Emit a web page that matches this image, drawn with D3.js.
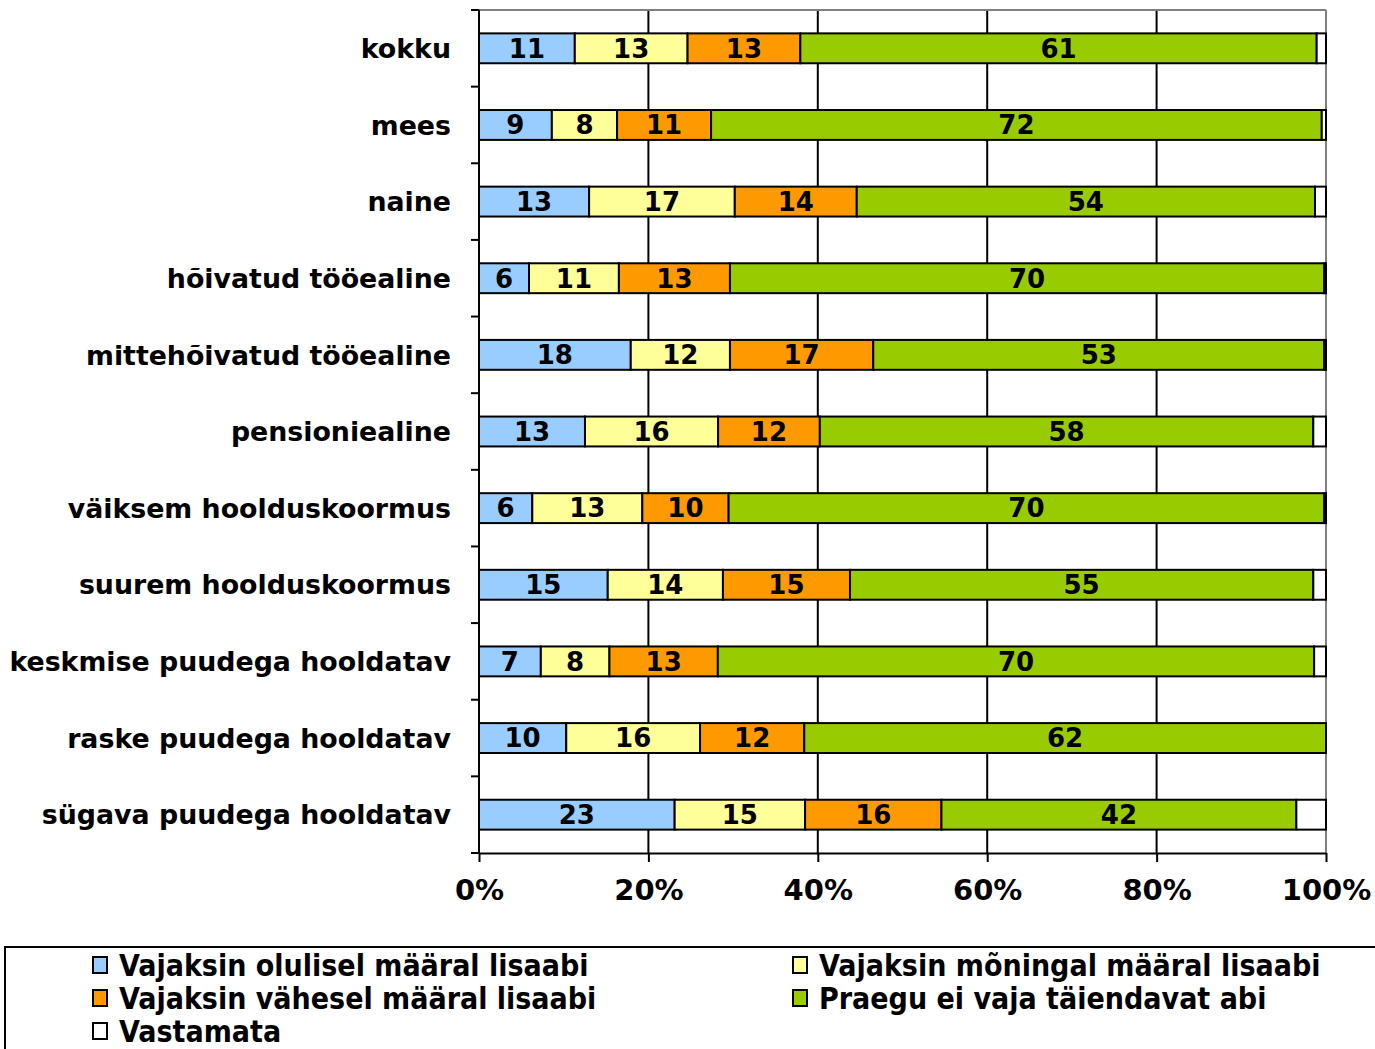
<!DOCTYPE html>
<html>
<head>
<meta charset="utf-8">
<script src="https://cdn.jsdelivr.net/npm/d3@7"></script>
<style>
  body { margin: 0; background: #fff; }
  svg { display: block; }
  text { font-family: "DejaVu Sans", Verdana, sans-serif; font-weight: bold; }
</style>
</head>
<body>
<svg id="chart" width="1375" height="1049"></svg>
<script>
// categories, top to bottom
const categories = ["kokku", "mees", "naine", "hõivatud tööealine", "mittehõivatud tööealine",
    "pensioniealine", "väiksem hoolduskoormus", "suurem hoolduskoormus",
    "keskmise puudega hooldatav", "raske puudega hooldatav", "sügava puudega hooldatav"];
const seriesNames = ["Vajaksin olulisel määral lisaabi", "Vajaksin mõningal määral lisaabi",
    "Vajaksin vähesel määral lisaabi", "Praegu ei vaja täiendavat abi", "Vastamata"];
// percent values
const olulisel = [11.3, 8.6, 13.0, 5.9, 17.9, 12.5, 6.3, 15.2, 7.3, 10.3, 23.1];
const moningal = [13.3, 7.7, 17.2, 10.6, 11.7, 15.7, 13.0, 13.6, 8.1, 15.8, 15.4];
const vahesel = [13.3, 11.1, 14.4, 13.1, 16.9, 12.0, 10.2, 15.0, 12.8, 12.3, 16.1];
const praegu = [60.9, 72.1, 54.1, 70.1, 53.2, 58.2, 70.4, 54.7, 70.4, 61.6, 41.9];
const vastamata = [1.1, 0.5, 1.3, 0.2, 0.2, 1.5, 0.2, 1.5, 1.4, 0.0, 3.5];
const xTicks = [0, 20, 40, 60, 80, 100];
const colors = ["#99CCFF", "#FFFF99", "#FF9900", "#99CC00", "#FFFFFF"];

const svg = d3.select("#chart");
const margin = { left: 479, top: 10, right: 49, bottom: 196 };
const width = 1375 - margin.left - margin.right;
const height = 1049 - margin.top - margin.bottom;
const g = svg.append("g").attr("transform", `translate(${margin.left},${margin.top})`);

const allSeries = [olulisel, moningal, vahesel, praegu, vastamata];
const rows = categories.map((c, i) => {
    const row = { cat: c };
    seriesNames.forEach((s, j) => row[s] = allSeries[j][i]);
    return row;
});
const stacked = d3.stack().keys(seriesNames).offset(d3.stackOffsetExpand)(rows);

const x = d3.scaleLinear().domain([0, 1]).range([0, width]);
const y = d3.scaleBand().domain(categories).range([0, height]).paddingInner(0.61).paddingOuter(0.305);
const band = d3.scaleBand().domain(categories).range([0, height]);

// gridlines
g.selectAll(".grid").data(xTicks.slice(1)).enter().append("line")
    .attr("x1", d => x(d / 100)).attr("x2", d => x(d / 100)).attr("y1", 0).attr("y2", height)
    .attr("stroke", d => d === 100 ? "#808080" : "#000").attr("stroke-width", 2);
g.append("line").attr("x1", 0).attr("x2", width).attr("y1", 0).attr("y2", 0)
    .attr("stroke", "#808080").attr("stroke-width", 2);

// bars
const layers = g.selectAll("g.layer").data(stacked).enter().append("g").attr("class", "layer")
    .attr("fill", (d, i) => colors[i]);
layers.selectAll("rect").data(d => d).enter().append("rect")
    .attr("x", d => x(d[0])).attr("width", d => x(d[1]) - x(d[0]))
    .attr("y", d => y(d.data.cat)).attr("height", y.bandwidth())
    .attr("stroke", "#000").attr("stroke-width", 2);

// value labels (not for Vastamata)
stacked.slice(0, 4).forEach((layer, i) => {
    g.append("g").selectAll("text").data(layer).enter().append("text")
        .attr("x", d => x((d[0] + d[1]) / 2)).attr("y", d => y(d.data.cat) + y.bandwidth() / 2)
        .attr("dy", "0.36em").attr("text-anchor", "middle").style("font-size", "26px")
        .text(d => Math.round(d.data[seriesNames[i]]));
});

// y axis
const yAxis = g.append("g");
yAxis.append("line").attr("x1", 0).attr("x2", 0).attr("y1", 0).attr("y2", height)
    .attr("stroke", "#000").attr("stroke-width", 2);
const yTicks = categories.map(c => band(c)).concat([height]);
yAxis.selectAll(".tk").data(yTicks).enter().append("line")
    .attr("x1", -8).attr("x2", 0).attr("y1", d => d).attr("y2", d => d)
    .attr("stroke", "#000").attr("stroke-width", 2);
yAxis.selectAll(".lbl").data(categories).enter().append("text")
    .attr("x", -28).attr("y", d => y(d) + y.bandwidth() / 2).attr("dy", "0.36em")
    .attr("text-anchor", "end").style("font-size", "26.8px").text(d => d);

// x axis
const xAxis = d3.axisBottom(x).tickValues(xTicks.map(d => d / 100)).tickFormat(d3.format(".0%"))
    .tickSize(9).tickSizeOuter(0);
const xg = g.append("g").attr("transform", `translate(0,${height})`).call(xAxis);
xg.select(".domain").attr("stroke", "#000").attr("stroke-width", 2);
xg.selectAll(".tick line").attr("stroke", "#000").attr("stroke-width", 2);
xg.selectAll(".tick text").attr("y", 26).attr("dy", "0.72em").style("font-size", "29px")
    .style("font-family", "'DejaVu Sans', Verdana, sans-serif").style("font-weight", "bold").attr("fill", "#000");

// legend
const legend = svg.append("g");
legend.append("rect").attr("x", 5).attr("y", 947).attr("width", 1400).attr("height", 130)
    .attr("fill", "#fff").attr("stroke", "#000").attr("stroke-width", 2);
const legendPos = [[93, 965], [793, 965], [93, 998], [793, 998], [93, 1031]];
seriesNames.forEach((s, i) => {
    const item = legend.append("g").attr("transform", `translate(${legendPos[i][0]},${legendPos[i][1]})`);
    item.append("rect").attr("x", 0).attr("y", -8).attr("width", 14).attr("height", 16)
        .attr("fill", colors[i]).attr("stroke", "#000").attr("stroke-width", 2);
    item.append("text").attr("x", 26).attr("y", 0).attr("dy", "0.36em")
        .style("font-family", "'DejaVu Sans Condensed', 'DejaVu Sans', sans-serif")
        .style("font-size", "30px").text(s);
});
</script>
</body>
</html>
